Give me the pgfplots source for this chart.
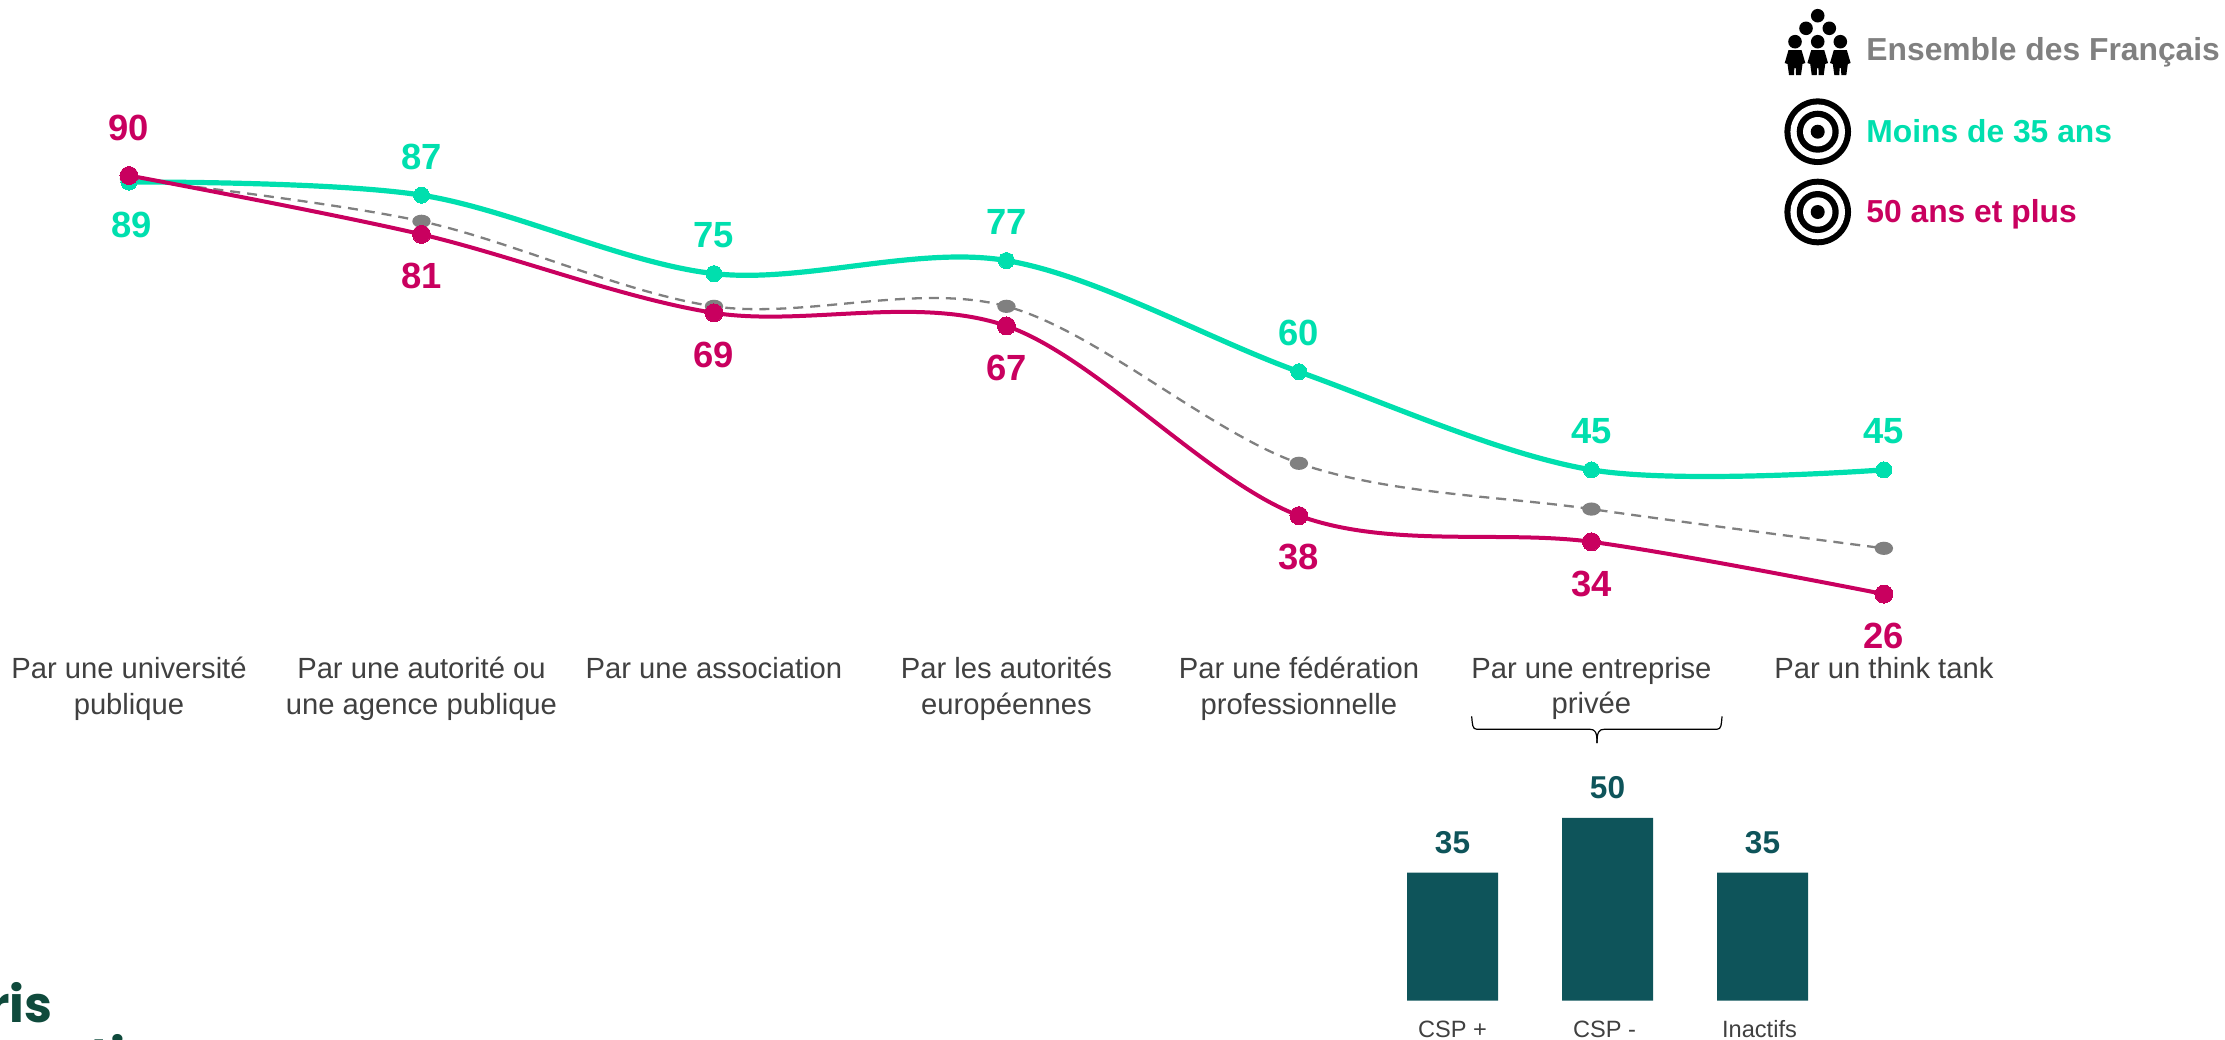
\documentclass[border=0pt]{standalone}
\usepackage{fontspec}
\setmainfont{Liberation Sans}
\newfontfamily\logofont{Poppins}
\usepackage{pgfplots}
\pgfplotsset{compat=1.18}
\definecolor{cgreen}{HTML}{00DFAE}
\definecolor{cmag}{HTML}{C9005F}
\definecolor{cgrey}{HTML}{808080}
\definecolor{cbar}{HTML}{0E545A}
\definecolor{clogo}{HTML}{0F4A3C}
\definecolor{ctxt}{HTML}{404040}
\newcommand{\valfont}{\fontsize{18.2}{21}\selectfont\bfseries}
\newcommand{\target}[2]{%
  \fill[black] (#1,#2) circle (33.3);
  \fill[white] (#1,#2) circle (27.3);
  \fill[black] (#1,#2) circle (21);
  \fill[white] (#1,#2) circle (14.7);
  \fill[black] (#1,#2) circle (7);
}
\newcommand{\person}[1]{%
  \fill[black] (#1,41.7) circle (6.8);
  \fill[black] (#1-6.5,50) -- (#1+6.5,50) -- (#1+10.3,63) -- (#1+7.5,64) -- (#1+6,75) -- (#1+1,75) -- (#1+0.7,68) -- (#1-0.7,68) -- (#1-1,75) -- (#1-6,75) -- (#1-7.5,64) -- (#1-10.3,63) -- cycle;
}
\begin{document}
\begin{tikzpicture}[x=0.5pt,y=-0.5pt]
\path[use as bounding box] (0,0) rectangle (2225,1039);
\clip (0,0) rectangle (2225,1039);
\begin{axis}[
  name=main, at={(0pt,-325.5pt)}, anchor=south west,
  scale only axis, width=1112.5pt, height=325pt,
  xmin=-0.441, xmax=7.166, ymin=17.3, ymax=116.68,
  clip=false,
  axis line style={draw=none}, tick style={draw=none},
  ytick=\empty,
  xtick={0,1,2,3,4,5,6},
  xticklabels={{Par une université\\publique},{Par une autorité ou\\une agence publique},{Par une association},{Par les autorités\\européennes},{Par une fédération\\professionnelle},{Par une entreprise\\privée},{Par un think tank}},
  xticklabel style={align=center, font=\fontsize{14.6}{17.8}\selectfont, text=ctxt, anchor=north, yshift=0.5pt},
  /pgf/number format/assume math mode=true,
]
\addplot[cgrey, line width=1.15pt, dash pattern=on 5pt off 3.5pt, smooth, tension=0.55, mark=*, mark size=3.2pt, mark options={solid, fill=cgrey, draw=cgrey, xscale=1.25, yscale=.85}]
  coordinates {(0,89.5) (1,83) (2,70) (3,70) (4,46) (5,39) (6,33)};
\addplot[cgreen, line width=2.6pt, smooth, tension=0.55, mark=*, mark size=4pt, mark options={fill=cgreen, draw=cgreen, line width=0pt}]
  coordinates {(0,89) (1,87) (2,75) (3,77) (4,60) (5,45) (6,45)};
\addplot[cmag, line width=2pt, smooth, tension=0.55, mark=*, mark size=4.5pt, mark options={fill=cmag, draw=cmag, line width=0pt}]
  coordinates {(0,90) (1,81) (2,69) (3,67) (4,38) (5,34) (6,26)};
% value labels
\addplot[draw=none, mark=none, nodes near coords, every node near coord/.style={anchor=center, yshift=19.2pt, font=\valfont, text=cgreen}]
  coordinates {(1,87) (2,75) (3,77) (4,60) (5,45) (6,45)};
\addplot[draw=none, mark=none, nodes near coords, every node near coord/.style={anchor=center, yshift=-21.6pt, xshift=1.2pt, font=\valfont, text=cgreen}]
  coordinates {(0,89)};
\addplot[draw=none, mark=none, nodes near coords, every node near coord/.style={anchor=center, yshift=24pt, font=\valfont, text=cmag}]
  coordinates {(0,90)};
\addplot[draw=none, mark=none, nodes near coords, every node near coord/.style={anchor=center, yshift=-20.9pt, font=\valfont, text=cmag}]
  coordinates {(1,81) (2,69) (3,67) (4,38) (5,34) (6,26)};
\end{axis}
\begin{axis}[
  name=bars, at={(687.5pt,-500.35pt)}, anchor=south west,
  scale only axis, width=232.5pt, height=109.7pt,
  xmin=-0.5, xmax=2.5, ymin=0, ymax=60,
  ybar, bar width=45.5pt, clip=false,
  axis line style={draw=none}, tick style={draw=none},
  ytick=\empty, xtick=data,
  xticklabels={CSP +,CSP -\hspace*{3pt},Inactifs\hspace*{3pt}},
  xticklabel style={font=\fontsize{11.8}{14}\selectfont, text=ctxt, anchor=center, yshift=-10pt},
  /pgf/number format/assume math mode=true,
  nodes near coords,
  every node near coord/.style={anchor=center, yshift=15pt, font=\fontsize{15.8}{19}\selectfont\bfseries, text=cbar},
]
\addplot[fill=cbar, draw=none] coordinates {(0,35) (1,50) (2,35)};
\end{axis}
% brace
\draw[black, line width=0.6pt, line cap=round] (1471.7,716.7) .. controls (1472.5,724) and (1472,729.3) .. (1477,729.3) -- (1590,729.3) .. controls (1595,729.3) and (1597,732) .. (1597,742.7);
\draw[black, line width=0.6pt, line cap=round] (1722,716.7) .. controls (1721.2,724) and (1721.7,729.3) .. (1716.7,729.3) -- (1604,729.3) .. controls (1599,729.3) and (1597,732) .. (1597,742.7);
% legend
\fill[black] (1817.7,15.7) circle (6.8);
\fill[black] (1806,28.3) circle (6.8);
\fill[black] (1829.3,28.3) circle (6.8);
\person{1795}
\person{1817.7}
\person{1840.3}
\target{1817.7}{131.7}
\target{1817.7}{212}
\node[anchor=base west, inner sep=0pt, font=\fontsize{15.9}{19}\selectfont\bfseries, text=cgrey] at (1866,60) {Ensemble des Français};
\node[anchor=base west, inner sep=0pt, font=\fontsize{15.9}{19}\selectfont\bfseries, text=cgreen] at (1866,142) {Moins de 35 ans};
\node[anchor=base west, inner sep=0pt, font=\fontsize{15.9}{19}\selectfont\bfseries, text=cmag] at (1866,222) {50 ans et plus};
% logo (cut by the page edge)
\node[anchor=base east, inner sep=0pt, font=\logofont\fontsize{25}{28}\selectfont\bfseries, text=clogo] at (53,1022) {ris};
\node[anchor=base, inner sep=0pt, font=\logofont\fontsize{25}{28}\selectfont\bfseries, text=clogo] at (108,1074) {ti};
\end{tikzpicture}
\end{document}
